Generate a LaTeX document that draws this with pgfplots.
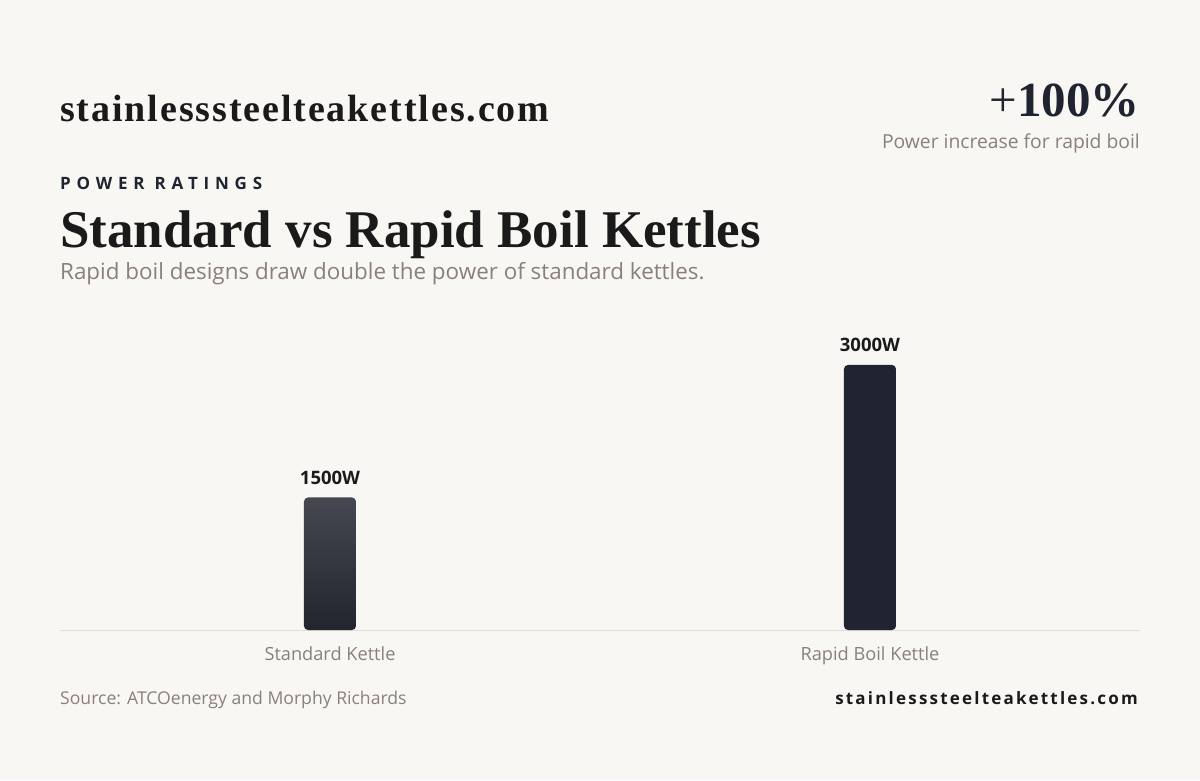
\documentclass[border=0pt]{standalone}
\usepackage{fontspec}
\usepackage{pgfplots}
\pgfplotsset{compat=1.18}
\setmainfont{Open Sans}
\newfontfamily\serifbold{Liberation Serif}[BoldFont={Liberation Serif Bold}]
\definecolor{bg}{HTML}{F8F7F4}
\definecolor{ink}{HTML}{1A1A1A}
\definecolor{navy}{HTML}{1F2430}
\definecolor{muted}{HTML}{8A8079}
\definecolor{rule}{HTML}{E2DFDA}
\definecolor{bartop}{HTML}{454751}
\definecolor{barbot}{HTML}{22252E}
\begin{document}
\begin{tikzpicture}[x=1pt,y=1pt]
\fill[bg] (0,0) rectangle (1200,780);
% header texts (y = 780 - image y)
\node[anchor=base west,inner sep=0,text=ink] at (60,780-122) {\serifbold\fontsize{38}{42}\selectfont\addfontfeatures{LetterSpace=5}\bfseries stainlesssteelteakettles.com};
\node[anchor=base east,inner sep=0,text=navy] at (1140,780-117) {\serifbold\fontsize{49}{56}\selectfont{+}\bfseries 100\%};
\node[anchor=base east,inner sep=0,text=muted] at (1140,780-149) {\fontsize{19.3}{22}\selectfont Power increase for rapid boil};
\node[anchor=base west,inner sep=0,text=navy] at (60,780-190) {\fontsize{17}{20}\selectfont\addfontfeatures{LetterSpace=34}\bfseries POWER RATINGS};
\node[anchor=base west,inner sep=0,text=ink] at (60,780-248) {\serifbold\fontsize{53}{58}\selectfont\bfseries Standard vs Rapid Boil Kettles};
\node[anchor=base west,inner sep=0,text=muted] at (60,780-280) {\fontsize{22.4}{26}\selectfont Rapid boil designs draw double the power of standard kettles.};
% footer
\node[anchor=base west,inner sep=0,text=muted] at (60,780-704) {\fontsize{17.6}{20}\selectfont Source: ATCOenergy and Morphy Richards};
\node[anchor=base east,inner sep=0,text=ink] at (1138,780-704) {\fontsize{17}{20}\selectfont\addfontfeatures{LetterSpace=13}\bfseries stainlesssteelteakettles.com};
\begin{axis}[
  at={(60pt,150pt)}, anchor=south west,
  scale only axis, width=1080pt, height=300pt,
  xmin=-0.5, xmax=1.5, ymin=0, ymax=3396,
  axis y line=none,
  axis x line*=bottom,
  axis line style={rule, line width=1pt, -},
  xtick={0,1}, xticklabels={Standard Kettle, Rapid Boil Kettle},
  major tick length=0pt,
  xticklabel style={text=muted, font=\fontsize{18.2}{22}\selectfont, yshift=-13pt},
  ybar, bar width=52pt, bar shift=0pt,
  /pgf/number format/assume math mode=true,
  nodes near coords={\pgfmathprintnumber[fixed,precision=0,1000 sep={}]{\pgfplotspointmeta}W},
  every node near coord/.append style={text=ink, font=\fontsize{18.5}{20}\selectfont\bfseries, anchor=south, yshift=13pt, inner sep=0pt},
  clip=false,
]
\addplot[draw=none, top color=bartop, bottom color=barbot, rounded corners=4pt] coordinates {(0,1500)};
\addplot[draw=none, fill=navy, rounded corners=4pt] coordinates {(1,3000)};
\end{axis}
\end{tikzpicture}
\end{document}
